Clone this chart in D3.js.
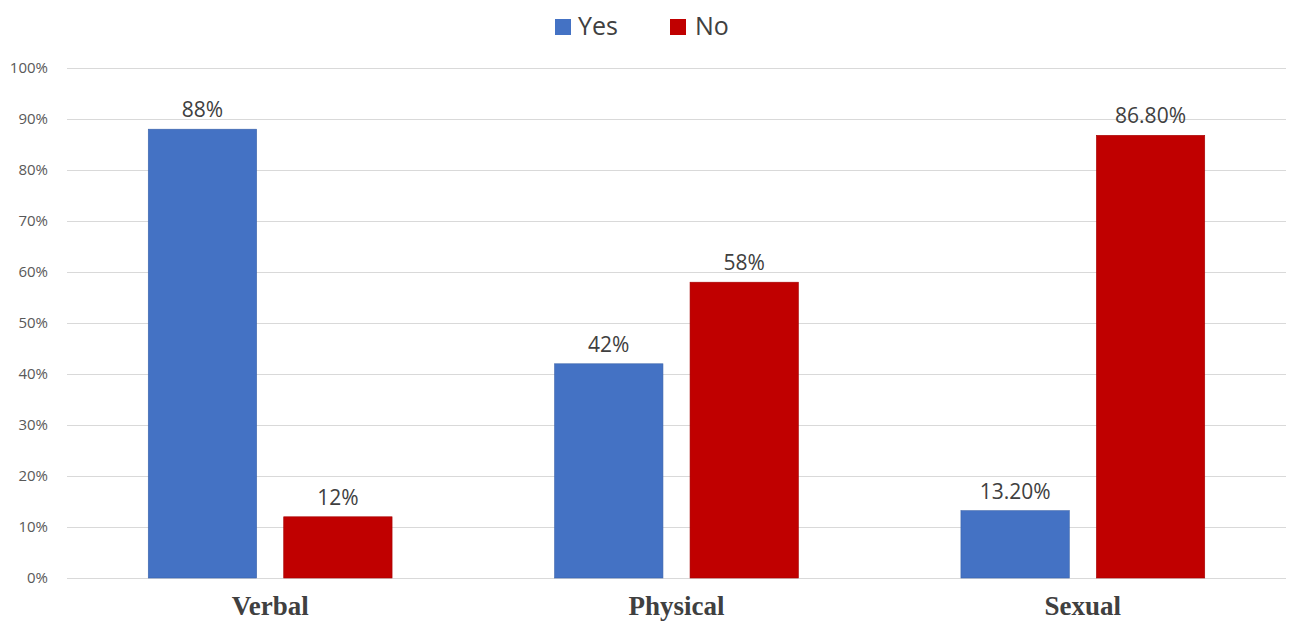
<!DOCTYPE html>
<html>
<head>
<meta charset="utf-8">
<script src="https://cdn.jsdelivr.net/npm/d3@7"></script>
<style>
  body { margin: 0; background: #fff; }
  svg { display: block; }
</style>
</head>
<body>
<svg id="chart" width="1292" height="621"></svg>
<script>
// Chart data
const categories = ['Verbal', 'Physical', 'Sexual'];
const seriesNames = ['Yes', 'No'];
const yesValues = [88, 42, 13.2];
const noValues = [12, 58, 86.8];
const yesLabels = ['88%', '42%', '13.20%'];
const noLabels = ['12%', '58%', '86.80%'];
const yTicks = [0, 10, 20, 30, 40, 50, 60, 70, 80, 90, 100];

const colors = { 'Yes': '#4472C4', 'No': '#C00000' };

const rows = categories.map((c, i) => ({
    category: c,
    bars: [
        { series: 'Yes', value: yesValues[i], label: yesLabels[i] },
        { series: 'No', value: noValues[i], label: noLabels[i] }
    ]
}));

const svg = d3.select('#chart');
const margin = { top: 68, right: 6, bottom: 43, left: 67 };
const width = 1292, height = 621;
const innerWidth = width - margin.left - margin.right;
const innerHeight = height - margin.top - margin.bottom;

const g = svg.append('g').attr('transform', `translate(${margin.left},${margin.top})`);

const x0 = d3.scaleBand()
    .domain(categories)
    .range([0, innerWidth])
    .paddingInner(0.4)
    .paddingOuter(0.2);

const x1 = d3.scaleBand()
    .domain(seriesNames)
    .range([0, x0.bandwidth()])
    .paddingInner(0.2);

const y = d3.scaleLinear().domain([0, 100]).range([innerHeight, 0]);

// gridlines
g.append('g')
    .selectAll('line')
    .data(yTicks)
    .enter()
    .append('line')
    .attr('x1', 0)
    .attr('x2', innerWidth)
    .attr('y1', d => y(d) + 0.5)
    .attr('y2', d => y(d) + 0.5)
    .attr('stroke', '#d9d9d9')
    .attr('stroke-width', 1);

// y axis labels
const yAxis = g.append('g')
    .attr('transform', 'translate(-16,0)')
    .call(d3.axisLeft(y).tickValues(yTicks).tickFormat(d => d + '%').tickSize(0));
yAxis.select('.domain').remove();
yAxis.selectAll('text')
    .attr('font-family', '"Open Sans", sans-serif')
    .attr('font-size', '15px')
    .attr('fill', '#595959');

// bars
const groups = g.selectAll('.cat')
    .data(rows)
    .enter()
    .append('g')
    .attr('class', 'cat')
    .attr('transform', d => `translate(${x0(d.category)},0)`);

groups.selectAll('rect')
    .data(d => d.bars)
    .enter()
    .append('rect')
    .attr('x', d => x1(d.series))
    .attr('y', d => y(d.value))
    .attr('width', x1.bandwidth())
    .attr('height', d => innerHeight - y(d.value))
    .attr('fill', d => colors[d.series])
    .attr('stroke', d => d3.color(colors[d.series]).darker(0.4))
    .attr('stroke-width', 0.6);

groups.selectAll('.val')
    .data(d => d.bars)
    .enter()
    .append('text')
    .attr('class', 'val')
    .attr('x', d => x1(d.series) + x1.bandwidth() / 2)
    .attr('y', d => y(d.value) - 12)
    .attr('text-anchor', 'middle')
    .attr('font-family', '"Open Sans", sans-serif')
    .attr('font-size', '21px')
    .attr('fill', '#404040')
    .text(d => d.label);

// category labels
const xAxis = g.append('g')
    .attr('transform', `translate(0,${innerHeight})`)
    .call(d3.axisBottom(x0).tickSize(0).tickPadding(0));
xAxis.select('.domain').remove();
xAxis.selectAll('text')
    .attr('dy', 0)
    .attr('y', 37)
    .attr('font-family', '"Liberation Serif", "Times New Roman", serif')
    .attr('font-weight', 'bold')
    .attr('font-size', '27px')
    .attr('fill', '#404040');

// legend
const legendItems = [
    { name: 'Yes', x: 555, tx: 578 },
    { name: 'No', x: 670, tx: 695 }
];
const legend = svg.append('g');
legend.selectAll('rect')
    .data(legendItems)
    .enter()
    .append('rect')
    .attr('x', d => d.x)
    .attr('y', 19)
    .attr('width', 16)
    .attr('height', 16)
    .attr('fill', d => colors[d.name]);
legend.selectAll('text')
    .data(legendItems)
    .enter()
    .append('text')
    .attr('x', d => d.tx)
    .attr('y', 35)
    .attr('font-family', '"Open Sans", sans-serif')
    .attr('font-size', '25px')
    .attr('fill', '#404040')
    .text(d => d.name);
</script>
</body>
</html>
